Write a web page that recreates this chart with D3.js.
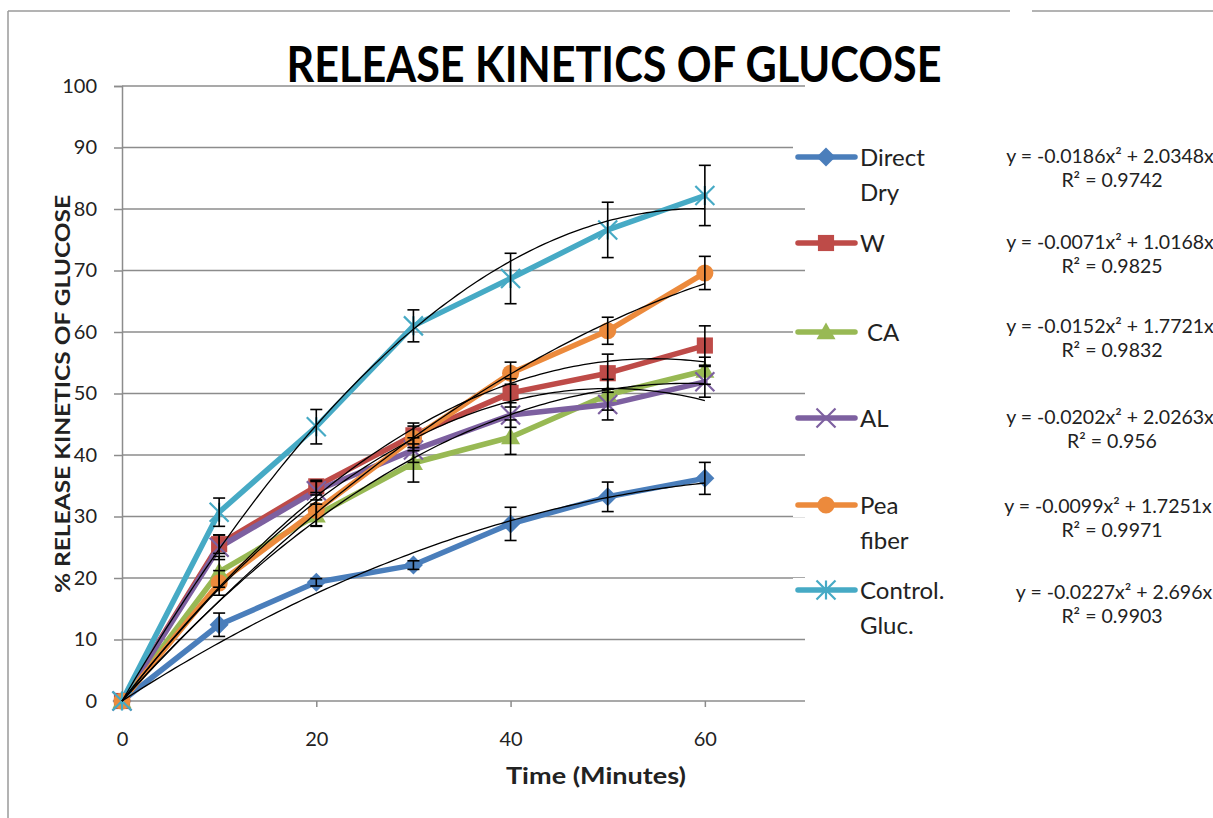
<!DOCTYPE html>
<html>
<head>
<meta charset="utf-8">
<script src="https://cdn.jsdelivr.net/npm/d3@7"></script>
<style>
  html, body { margin: 0; padding: 0; background: #fff; overflow: hidden; }
  svg { display: block; }
  text { font-family: Lato, "Open Sans", sans-serif; }
</style>
</head>
<body>
<svg id="chart" width="1213" height="818"></svg>
<script>
// Sampling times (minutes)
const times = [0, 10, 20, 30, 40, 50, 60];

// Series names as shown in the legend (line breaks split with "\n")
const seriesNames = ["Direct\nDry", "W", "CA", "AL", "Pea\nfiber", "Control.\nGluc."];
const seriesColors = ["#4a7ebb", "#be4b48", "#98b954", "#7d60a0", "#ec8a3c", "#46aac5"];
const seriesMarkers = ["diamond", "square", "triangle", "cross", "circle", "asterisk"];

// % glucose released at each time
const directDry = [0, 12.4, 19.3, 22.1, 28.8, 33.2, 36.2];
const wSeries   = [0, 25.5, 34.9, 43.2, 50.1, 53.3, 57.8];
const caSeries  = [0, 21.0, 30.2, 38.7, 42.9, 49.8, 53.7];
const alSeries  = [0, 25.0, 34.2, 40.8, 46.5, 48.2, 51.9];
const peaFiber  = [0, 19.2, 31.0, 42.7, 53.3, 60.2, 69.6];
const control   = [0, 30.7, 44.6, 61.0, 68.7, 76.6, 82.2];

// Standard deviation (error bar half-length)
const directDryErr = [0, 1.9, 0.6, 0.7, 2.7, 2.4, 2.6];
const wErr         = [0, 1.5, 1.0, 2.0, 2.3, 3.1, 3.2];
const caErr        = [0, 2.5, 1.8, 3.1, 2.8, 2.5, 2.2];
const alErr        = [0, 2.0, 1.5, 2.0, 2.0, 2.5, 2.5];
const peaErr       = [0, 2.0, 2.5, 2.0, 1.8, 2.2, 2.7];
const controlErr   = [0, 2.3, 2.8, 2.6, 4.1, 4.5, 4.9];

// Polynomial (order 2, zero intercept) trendline coefficients: y = a*x^2 + b*x
const trendA = [-0.0186, -0.0071, -0.0152, -0.0202, -0.0099, -0.0227];
const trendB = [2.0348, 1.0168, 1.7721, 2.0263, 1.7251, 2.696];
const trendR2 = ["0.9742", "0.9825", "0.9832", "0.956", "0.9971", "0.9903"];

// Axis ticks
const yTicks = [0, 10, 20, 30, 40, 50, 60, 70, 80, 90, 100];
const xTicks = [0, 20, 40, 60];

const seriesValues = [directDry, wSeries, caSeries, alSeries, peaFiber, control];
const seriesErrors = [directDryErr, wErr, caErr, alErr, peaErr, controlErr];

const svg = d3.select("#chart");

const x = d3.scaleLinear().domain([0, 70]).range([122, 802]);
const y = d3.scaleLinear().domain([0, 100]).range([701, 86]);

// Outer frame
svg.append("line").attr("x1", 8).attr("x2", 1010).attr("y1", 11).attr("y2", 11)
  .attr("stroke", "#9a9a9a").attr("stroke-width", 1.5);
svg.append("line").attr("x1", 1032).attr("x2", 1213).attr("y1", 11).attr("y2", 11)
  .attr("stroke", "#9a9a9a").attr("stroke-width", 1.5);
svg.append("line").attr("x1", 8).attr("x2", 8).attr("y1", 11).attr("y2", 818)
  .attr("stroke", "#9a9a9a").attr("stroke-width", 1.5);

// Title
svg.append("text")
  .attr("x", 614).attr("y", 82)
  .attr("text-anchor", "middle")
  .attr("font-size", 49).attr("font-weight", "bold")
  .attr("textLength", 655).attr("lengthAdjust", "spacingAndGlyphs")
  .text("RELEASE KINETICS OF GLUCOSE");

// Horizontal gridlines
svg.append("g").selectAll("line").data(yTicks).join("line")
  .attr("x1", x(0)).attr("x2", 805)
  .attr("y1", d => y(d)).attr("y2", d => y(d))
  .attr("stroke", "#8c8c8c").attr("stroke-width", 1.5);

// Y axis
const yAxis = svg.append("g").attr("transform", `translate(${x(0)},0)`)
  .call(d3.axisLeft(y).tickValues(yTicks).tickSize(8).tickPadding(17));
yAxis.select(".domain").attr("stroke", "#8c8c8c").attr("stroke-width", 1.5);
yAxis.selectAll(".tick line").attr("stroke", "#8c8c8c").attr("stroke-width", 1.5);
yAxis.selectAll("text").attr("font-size", 20).attr("fill", "#222")
  .attr("font-family", "Lato, sans-serif");

// X axis
const xAxis = svg.append("g").attr("transform", `translate(0,${y(0)})`)
  .call(d3.axisBottom(x).tickValues(xTicks).tickSize(6).tickPadding(25).tickFormat(d3.format("d")));
xAxis.select(".domain").remove();
xAxis.selectAll(".tick line").attr("stroke", "#8c8c8c").attr("stroke-width", 1.5);
xAxis.selectAll("text").attr("font-size", 20).attr("fill", "#222")
  .attr("font-family", "Lato, sans-serif");

// Axis titles
svg.append("text")
  .attr("x", 596).attr("y", 784)
  .attr("text-anchor", "middle")
  .attr("font-size", 22).attr("font-weight", "bold").attr("fill", "#222")
  .attr("textLength", 180).attr("lengthAdjust", "spacingAndGlyphs")
  .text("Time (Minutes)");
svg.append("text")
  .attr("transform", "translate(70,394) rotate(-90)")
  .attr("text-anchor", "middle")
  .attr("font-size", 21).attr("font-weight", "bold").attr("fill", "#222")
  .attr("textLength", 398).attr("lengthAdjust", "spacingAndGlyphs")
  .text("% RELEASE KINETICS OF GLUCOSE");

// Marker drawing
function drawMarker(g, type, color, s) {
  if (type === "diamond") {
    g.append("path").attr("d", `M0,${-s}L${s},0L0,${s}L${-s},0Z`).attr("fill", color);
  } else if (type === "square") {
    g.append("rect").attr("x", -s * 0.85).attr("y", -s * 0.85)
      .attr("width", s * 1.7).attr("height", s * 1.7).attr("fill", color);
  } else if (type === "triangle") {
    g.append("path").attr("d", `M0,${-s}L${s},${s * 0.75}L${-s},${s * 0.75}Z`).attr("fill", color);
  } else if (type === "circle") {
    g.append("circle").attr("r", s * 0.9).attr("fill", color);
  } else if (type === "cross") {
    g.append("path").attr("d", `M${-s},${-s}L${s},${s}M${-s},${s}L${s},${-s}`)
      .attr("stroke", color).attr("stroke-width", 2.2);
  } else if (type === "asterisk") {
    g.append("path").attr("d", `M${-s},${-s}L${s},${s}M${-s},${s}L${s},${-s}M0,${-s}L0,${s}`)
      .attr("stroke", color).attr("stroke-width", 2.2);
  }
}

const line = d3.line().x((d, i) => x(times[i])).y(d => y(d));

// Series lines and markers
const seriesG = svg.append("g");
seriesValues.forEach((vals, si) => {
  seriesG.append("path")
    .datum(vals)
    .attr("d", line)
    .attr("fill", "none")
    .attr("stroke", seriesColors[si])
    .attr("stroke-width", 5.5)
    .attr("stroke-linejoin", "round")
    .attr("stroke-linecap", "round");
});
seriesValues.forEach((vals, si) => {
  vals.forEach((v, i) => {
    const g = seriesG.append("g").attr("transform", `translate(${x(times[i])},${y(v)})`);
    drawMarker(g, seriesMarkers[si], seriesColors[si], 9.5);
  });
});

// Polynomial trendlines
const trendX = d3.range(0, 60.01, 0.5);
const trendG = svg.append("g");
trendA.forEach((a, k) => {
  const b = trendB[k];
  trendG.append("path")
    .datum(trendX)
    .attr("d", d3.line().x(t => x(t)).y(t => y(a * t * t + b * t)))
    .attr("fill", "none")
    .attr("stroke", "#000")
    .attr("stroke-width", 1.3);
});

// Error bars
const errG = svg.append("g").attr("stroke", "#000").attr("stroke-width", 1.6);
seriesValues.forEach((vals, si) => {
  vals.forEach((v, i) => {
    const e = seriesErrors[si][i];
    if (e <= 0) return;
    const cx = x(times[i]);
    errG.append("line").attr("x1", cx).attr("x2", cx).attr("y1", y(v + e)).attr("y2", y(v - e));
    errG.append("line").attr("x1", cx - 6).attr("x2", cx + 6).attr("y1", y(v + e)).attr("y2", y(v + e));
    errG.append("line").attr("x1", cx - 6).attr("x2", cx + 6).attr("y1", y(v - e)).attr("y2", y(v - e));
  });
});

// Legend
const legendRows = [157, 243, 332, 418, 505, 590];
const legend = svg.append("g");
seriesNames.forEach((name, si) => {
  const ly = legendRows[si];
  const g = legend.append("g").attr("transform", `translate(0,${ly})`);
  g.append("rect").attr("x", 793).attr("y", -12).attr("width", 65).attr("height", 24).attr("fill", "#fff");
  g.append("line").attr("x1", 798).attr("x2", 855).attr("y1", 0).attr("y2", 0)
    .attr("stroke", seriesColors[si]).attr("stroke-width", 5.5).attr("stroke-linecap", "round");
  const mg = g.append("g").attr("transform", "translate(826,0)");
  drawMarker(mg, seriesMarkers[si], seriesColors[si], 9.5);
  const lines = name.split("\n");
  const tx = name === "CA" ? 867 : 860;
  const t = g.append("text").attr("x", tx).attr("y", 9)
    .attr("font-size", 24).attr("fill", "#222");
  lines.forEach((ln, li) => {
    t.append("tspan").attr("x", tx).attr("dy", li === 0 ? 0 : 35).text(ln);
  });
});

// Trendline equations
const eqRows = [157, 243, 327, 418, 507, 593];
const eqCenters = [1110, 1110, 1110, 1110, 1108, 1114];
const fmtCoef = (a, b) => `y = ${a}x² + ${b}x`;
eqRows.forEach((ey, k) => {
  svg.append("text")
    .attr("x", eqCenters[k]).attr("y", ey + 6)
    .attr("text-anchor", "middle")
    .attr("font-size", 19.5).attr("fill", "#222")
    .text(fmtCoef(trendA[k], trendB[k]));
  svg.append("text")
    .attr("x", 1112).attr("y", ey + 30)
    .attr("text-anchor", "middle")
    .attr("font-size", 19.5).attr("fill", "#222")
    .text(`R² = ${trendR2[k]}`);
});
</script>
</body>
</html>
